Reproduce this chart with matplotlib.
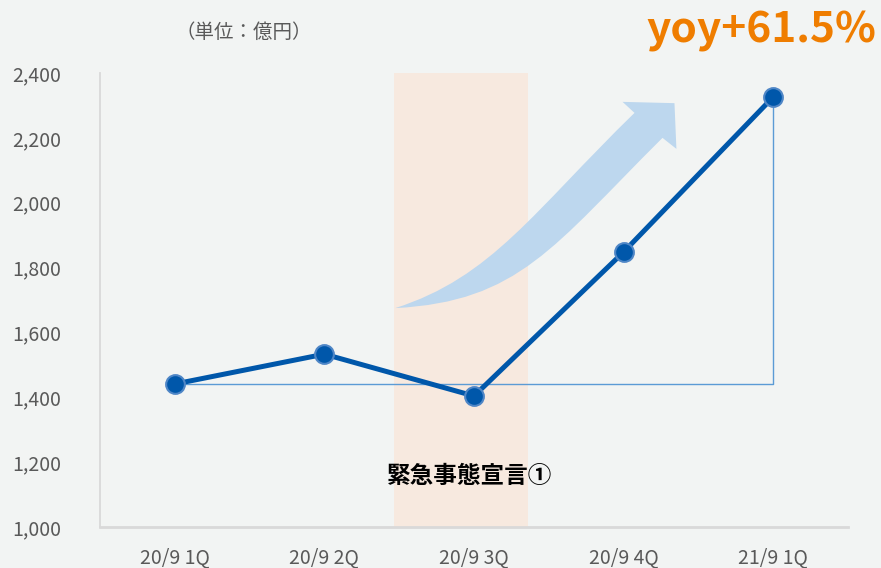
import matplotlib
matplotlib.use("Agg")
import matplotlib.pyplot as plt
from matplotlib.path import Path
from matplotlib.patches import PathPatch, Rectangle

plt.rcParams['font.family'] = ['Noto Sans CJK JP', 'DejaVu Sans']

categories = ["20/9 1Q", "20/9 2Q", "20/9 3Q", "20/9 4Q", "21/9 1Q"]
values = [1441, 1533, 1404, 1848, 2326]
yticks = [1000, 1200, 1400, 1600, 1800, 2000, 2200, 2400]
unit_label = "（単位：億円）"
yoy_label = "yoy+61.5%"
event_label = "緊急事態宣言①"

BG = "#f2f4f3"
fig = plt.figure(figsize=(8.81, 5.68), dpi=100, facecolor=BG)
ax = fig.add_axes([100/881, 1-527/568, 748/881, 454/568], facecolor=BG)

x = list(range(len(categories)))
ax.set_xlim(-0.5, 4.5)
ax.set_ylim(1000, 2400)

# shaded period band
ax.add_patch(Rectangle((1.467, 1000), 2.36-1.467, 1400, facecolor="#f7e9df",
                       edgecolor="none", zorder=0, clip_on=False))

# curved arrow (decoration)
verts = [
    (1.473, 1675),
    (2.12, 1770), (2.40, 1975), (3.073, 2277),
    (2.993, 2311),
    (3.34, 2307),
    (3.353, 2166),
    (3.26, 2200),
    (2.53, 1865), (2.30, 1695), (1.473, 1675),
    (1.473, 1675),
]
codes = [Path.MOVETO,
         Path.CURVE4, Path.CURVE4, Path.CURVE4,
         Path.LINETO, Path.LINETO, Path.LINETO, Path.LINETO,
         Path.CURVE4, Path.CURVE4, Path.CURVE4,
         Path.CLOSEPOLY]
ax.add_patch(PathPatch(Path(verts, codes), facecolor="#bdd7ee", edgecolor="none", zorder=1))

# baseline comparison connector
ax.plot([x[0], x[-1], x[-1]], [values[0], values[0], values[-1]],
        color="#5b9bd5", lw=1.0, zorder=2)

# main line
ax.plot(x, values, color="#0057aa", lw=3.6, marker="o", markersize=13.5,
        markerfacecolor="#0057aa", markeredgecolor="#4f86c6", markeredgewidth=1.5,
        zorder=3, solid_capstyle="round")

ax.set_xticks(x)
ax.set_xticklabels(categories)
ax.set_yticks(yticks)
ax.set_yticklabels([f"{v:,}" for v in yticks])
ax.tick_params(axis="both", length=0, labelsize=14, colors="#595959")
ax.tick_params(axis="y", pad=28)
ax.tick_params(axis="x", pad=15)

for s in ["top", "right"]:
    ax.spines[s].set_visible(False)
ax.spines["left"].set_color("#d9d9d9")
ax.spines["left"].set_linewidth(1.3)
ax.spines["bottom"].set_color("#d9d9d9")
ax.spines["bottom"].set_linewidth(2.0)

ax.text(1.97, 1157, event_label, ha="center", va="center", fontsize=17,
        fontweight="bold", color="#000000", zorder=4)

fig.text(244/881, 1-32/568, unit_label, ha="center", va="center",
         fontsize=14, color="#595959")
fig.text(876/881, 1-31/568, yoy_label, ha="right", va="center",
         fontsize=30.5, fontweight="bold", color="#ef7d00")

fig.savefig("out.png", dpi=100, facecolor=BG)
